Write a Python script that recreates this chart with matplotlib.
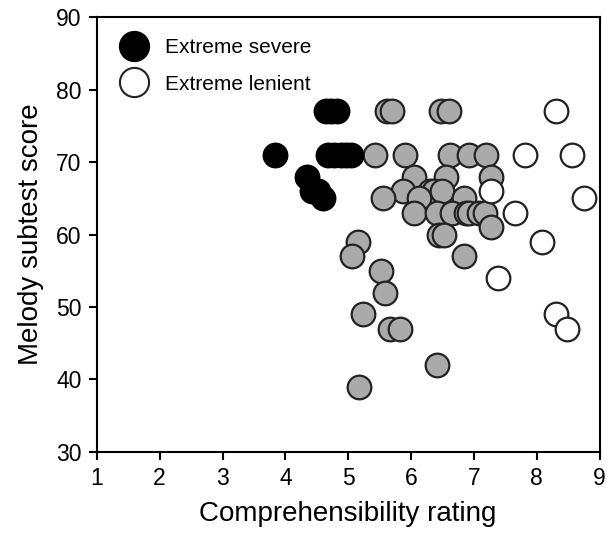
import matplotlib
matplotlib.use("Agg")
import matplotlib.pyplot as plt
from matplotlib.lines import Line2D

plt.rcParams['font.family'] = ['Liberation Sans', 'DejaVu Sans']

# Extreme severe raters (black)
severe_x = [3.83, 4.64, 4.73, 4.82, 4.68, 4.78, 4.88, 4.97, 5.05, 4.35, 4.42, 4.52, 4.60]
severe_y = [71, 77, 77, 77, 71, 71, 71, 71, 71, 68, 66, 66, 65]

# Middle raters (grey)
mid_x = [5.62, 5.70, 6.47, 6.60,
         5.43, 5.90, 6.62, 6.93, 7.20,
         6.04, 6.56, 7.27,
         5.87, 6.30, 6.36, 6.50,
         5.55, 6.13, 6.84,
         6.04, 6.41, 6.65, 6.87, 6.93, 7.08, 7.17,
         7.27, 6.44, 6.52, 5.15, 5.06, 6.84,
         5.52, 5.58, 5.24, 5.67, 5.83, 6.41, 5.18]
mid_y = [77, 77, 77, 77,
         71, 71, 71, 71, 71,
         68, 68, 68,
         66, 66, 66, 66,
         65, 65, 65,
         63, 63, 63, 63, 63, 63, 63,
         61, 60, 60, 59, 57, 57,
         55, 52, 49, 47, 47, 42, 39]

# Extreme lenient raters (white)
lenient_x = [8.31, 7.81, 8.57, 7.28, 8.75, 7.66, 8.09, 7.39, 8.31, 8.49]
lenient_y = [77, 71, 71, 66, 65, 63, 59, 54, 49, 47]

x_ticks = [1, 2, 3, 4, 5, 6, 7, 8, 9]
y_ticks = [30, 40, 50, 60, 70, 80, 90]

fig = plt.figure(figsize=(6.13, 5.33), dpi=100)
ax = fig.add_axes([0.158, 0.152, 0.82, 0.816])

ms = 290
ec = '#222222'
lw = 1.6
ax.scatter(mid_x, mid_y, s=ms, c='#aaaaaa', edgecolors=ec, linewidths=lw, zorder=3)
ax.scatter(severe_x, severe_y, s=ms, c='black', edgecolors='black', linewidths=lw, zorder=3)
ax.scatter(lenient_x, lenient_y, s=ms, c='white', edgecolors=ec, linewidths=lw, zorder=3)

ax.set_xlim(1, 9)
ax.set_ylim(30, 90)
ax.set_xticks(x_ticks)
ax.set_yticks(y_ticks)
ax.tick_params(direction='out', length=6, width=1.5, labelsize=16.5, pad=5)
for sp in ax.spines.values():
    sp.set_linewidth(1.5)

ax.set_xlabel('Comprehensibility rating', fontsize=20, labelpad=8)
ax.set_ylabel('Melody subtest score', fontsize=20, labelpad=9)

handles = [
    Line2D([], [], marker='o', linestyle='none', markersize=21,
           markerfacecolor='black', markeredgecolor='black', markeredgewidth=1.5),
    Line2D([], [], marker='o', linestyle='none', markersize=21,
           markerfacecolor='white', markeredgecolor=ec, markeredgewidth=1.5),
]
ax.legend(handles, ['Extreme severe', 'Extreme lenient'], loc='upper left',
          frameon=False, fontsize=15, handletextpad=0.45, labelspacing=0.85,
          borderaxespad=0.4, bbox_to_anchor=(0.0, 0.99))

fig.savefig('out.png', dpi=100)
